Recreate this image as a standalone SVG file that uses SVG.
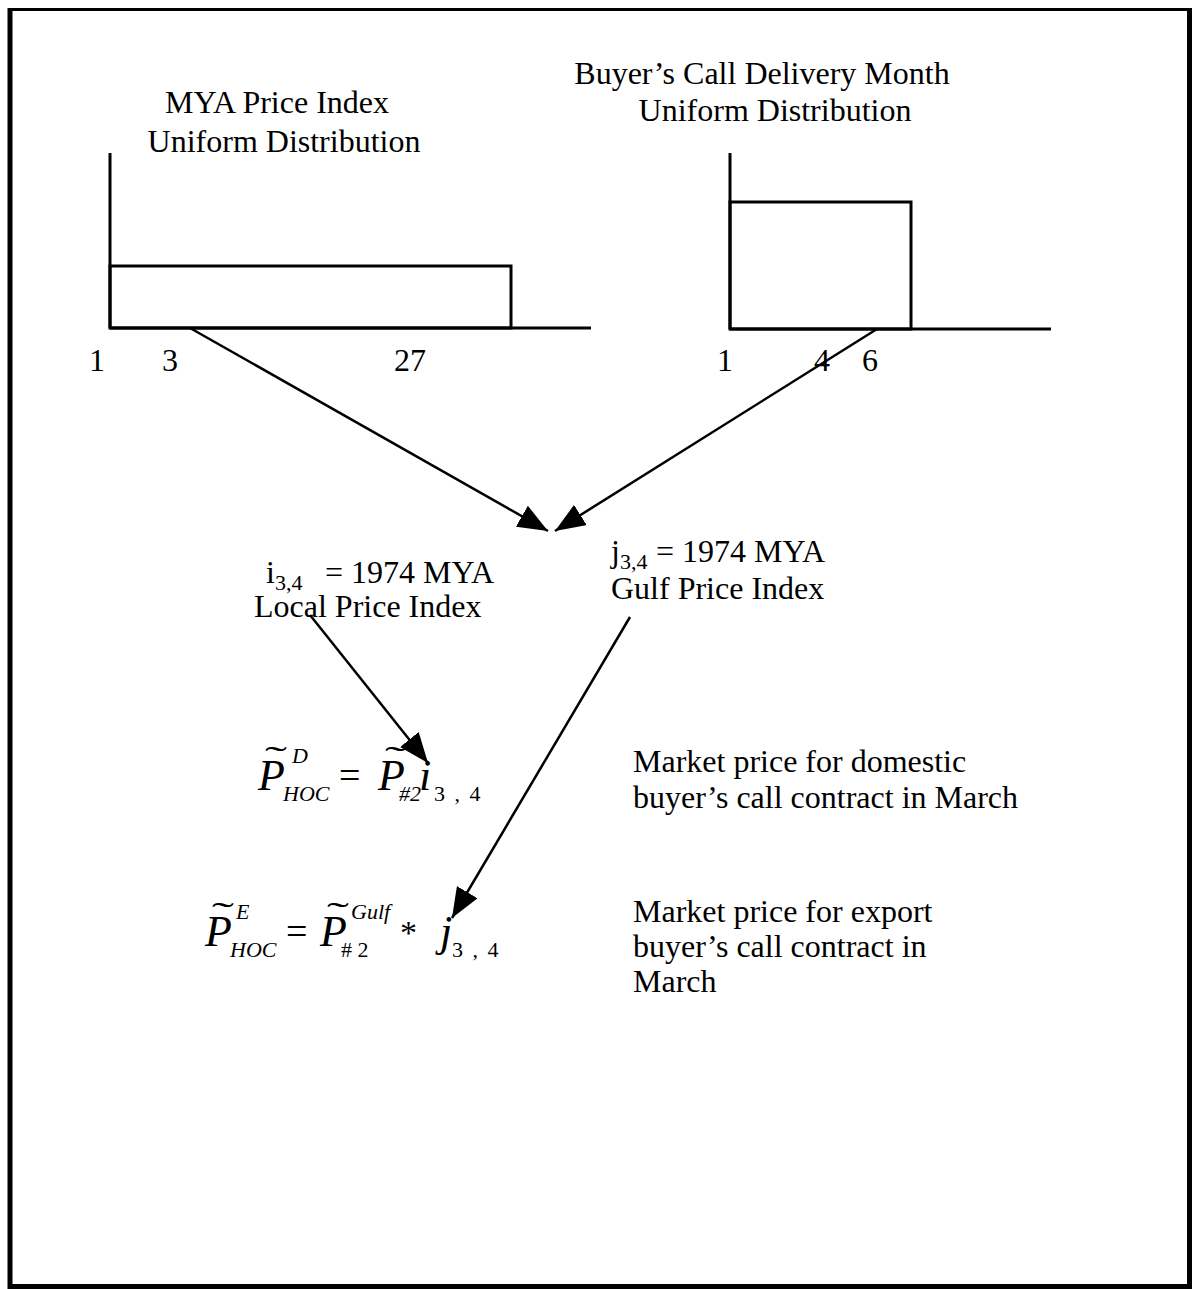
<svg xmlns="http://www.w3.org/2000/svg" width="1193" height="1289" viewBox="0 0 1193 1289">
  <style>
    .t { font-family: "Liberation Serif", "Times New Roman", serif; font-size: 32px; fill: #000; }
    .m { font-family: "Liberation Serif", "Times New Roman", serif; font-style: italic; fill: #000; }
    .up { font-style: normal; }
    .sub { font-size: 22px; }
    .big { font-size: 44px; }
    .tl { font-family: "Liberation Serif", "Times New Roman", serif; font-size: 34px; fill: #000; }
    .ax { stroke: #000; stroke-width: 3; fill: none; }
    .frame { stroke: #000; fill: none; }
    .arrow { stroke: #000; stroke-width: 2.5; fill: none; marker-end: url(#head); }
  </style>
  <defs>
    <marker id="head" viewBox="0 0 30 24" refX="30" refY="12" markerWidth="30" markerHeight="24" markerUnits="userSpaceOnUse" orient="auto">
      <path d="M0,0 L30,12 L0,24 z" fill="#000"/>
    </marker>
  </defs>
  <rect width="1193" height="1289" fill="#fff"/>

  <!-- page frame: thin top edge, heavy sides and bottom -->
  <g id="frame">
    <line class="frame" x1="8" y1="9.5" x2="1192" y2="9.5" stroke-width="3"/>
    <line class="frame" x1="10" y1="8" x2="10" y2="1289" stroke-width="5"/>
    <line class="frame" x1="1189.5" y1="8" x2="1189.5" y2="1289" stroke-width="5"/>
    <line class="frame" x1="8" y1="1286.5" x2="1192" y2="1286.5" stroke-width="5"/>
  </g>

  <!-- left distribution: MYA price index -->
  <g id="mya-dist">
    <text class="t" x="277" y="113" text-anchor="middle">MYA Price Index</text>
    <text class="t" x="284" y="152" text-anchor="middle">Uniform Distribution</text>
    <line class="ax" x1="110" y1="153" x2="110" y2="328"/>
    <line class="ax" x1="110" y1="328" x2="591" y2="328"/>
    <rect class="ax" x="110" y="266" width="401" height="62"/>
    <text class="t" x="97" y="371" text-anchor="middle">1</text>
    <text class="t" x="170" y="371" text-anchor="middle">3</text>
    <text class="t" x="410" y="371" text-anchor="middle">27</text>
  </g>

  <!-- right distribution: buyer's call delivery month -->
  <g id="month-dist">
    <text class="t" x="762" y="84" text-anchor="middle">Buyer’s Call Delivery Month</text>
    <text class="t" x="775" y="121" text-anchor="middle">Uniform Distribution</text>
    <line class="ax" x1="730" y1="153" x2="730" y2="329"/>
    <line class="ax" x1="730" y1="329" x2="1051" y2="329"/>
    <rect class="ax" x="730" y="202" width="181" height="127"/>
    <text class="t" x="725" y="371" text-anchor="middle">1</text>
    <text class="t" x="822" y="371" text-anchor="middle">4</text>
    <text class="t" x="870" y="371" text-anchor="middle">6</text>
  </g>

  <!-- local price index -->
  <g id="local-index">
    <text class="t" x="266" y="583">i<tspan font-size="22" dy="7">3,4</tspan><tspan dy="-7" x="325">= 1974 MYA</tspan></text>
    <text class="t" x="254" y="617">Local Price Index</text>
  </g>

  <!-- gulf price index -->
  <g id="gulf-index">
    <text class="t" x="611" y="562">j<tspan font-size="22" dy="7">3,4</tspan><tspan dy="-7" x="656">= 1974 MYA</tspan></text>
    <text class="t" x="611" y="599">Gulf Price Index</text>
  </g>

  <!-- domestic price equation -->
  <g id="domestic-eq">
    <text class="m big" x="258" y="790">P</text>
    <text class="tl" x="265" y="770" textLength="22" lengthAdjust="spacingAndGlyphs">˜</text>
    <text class="m sub" x="283" y="801">HOC</text>
    <text class="m sub" x="292" y="763">D</text>
    <text class="m up" x="339" y="788" font-size="38">=</text>
    <text class="m big" x="378" y="790">P</text>
    <text class="tl" x="385" y="770" textLength="22" lengthAdjust="spacingAndGlyphs">˜</text>
    <text class="m sub" x="399" y="801">#2</text>
    <text class="m big" x="419" y="790">i</text>
    <text class="m up sub" x="434" y="801" letter-spacing="2">3 , 4</text>
    <text class="t" x="633" y="772">Market price for domestic</text>
    <text class="t" x="633" y="808">buyer’s call contract in March</text>
  </g>

  <!-- export price equation -->
  <g id="export-eq">
    <text class="m big" x="205" y="946">P</text>
    <text class="tl" x="212" y="926" textLength="22" lengthAdjust="spacingAndGlyphs">˜</text>
    <text class="m sub" x="230" y="957">HOC</text>
    <text class="m sub" x="236" y="919">E</text>
    <text class="m up" x="286" y="944" font-size="38">=</text>
    <text class="m big" x="320" y="946">P</text>
    <text class="tl" x="327" y="926" textLength="22" lengthAdjust="spacingAndGlyphs">˜</text>
    <text class="m up sub" x="341" y="957"># 2</text>
    <text class="m sub" x="351" y="919">Gulf</text>
    <text class="m up" x="400" y="944" font-size="34">*</text>
    <text class="m big" x="440" y="946">j</text>
    <text class="m up sub" x="452" y="957" letter-spacing="2">3 , 4</text>
    <text class="t" x="633" y="922">Market price for export</text>
    <text class="t" x="633" y="957">buyer’s call contract in</text>
    <text class="t" x="633" y="992">March</text>
  </g>

  <!-- connectors -->
  <g id="connectors">
    <line class="arrow" x1="310" y1="615" x2="428" y2="763"/>
    <line class="arrow" x1="630" y1="617" x2="452" y2="918"/>
    <line class="arrow" x1="190" y1="328" x2="548" y2="531"/>
    <line class="arrow" x1="877" y1="329" x2="555" y2="531"/>
  </g>
</svg>
